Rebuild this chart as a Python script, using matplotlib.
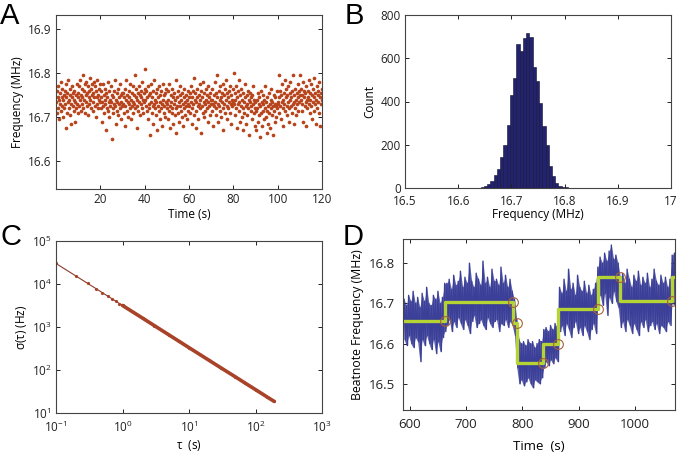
import numpy as np
import matplotlib
matplotlib.use("Agg")
import matplotlib.pyplot as plt

plt.rcParams['font.family'] = ['Open Sans', 'DejaVu Sans']
plt.rcParams['mathtext.fontset'] = 'dejavusans'

# ---------------- Panel A: frequency vs time (kHz above 16.7 MHz) ----------------
a_t_start = 0.2
a_t_step = 0.2
a_khz = [
    35,60,10,45,70,20,40,-5,55,30,80,15,45,25,65,0,40,50,20,60,
    30,75,-25,45,10,55,35,85,20,40,65,5,50,30,-15,45,70,25,55,15,
    40,60,-10,35,50,20,75,30,45,10,
    55,25,70,40,85,15,50,65,30,45,95,20,60,40,10,75,50,35,80,25,
    55,70,5,45,60,30,90,40,20,65,50,75,15,55,35,80,45,25,70,0,
    60,45,85,30,50,20,65,40,75,35,
    45,20,60,-10,35,75,25,50,10,40,65,30,-30,55,20,45,80,15,35,60,
    0,40,25,70,35,-50,50,20,45,10,60,30,85,25,-15,40,55,15,35,65,
    5,45,30,75,20,50,-5,35,55,25,
    30,55,10,45,-20,65,25,40,85,15,50,35,0,60,30,45,75,20,40,-5,
    55,25,70,35,10,50,30,95,20,45,65,-25,40,25,55,15,70,35,50,5,
    45,30,60,20,80,40,10,55,35,65,
    40,110,25,60,15,45,-5,70,30,50,20,-40,55,35,75,10,45,25,-15,60,
    30,85,20,40,5,55,35,-30,65,25,45,15,70,-5,35,50,20,60,30,-20,
    40,75,10,50,25,55,0,35,65,20,
    30,60,-5,40,15,75,25,-25,50,35,10,65,20,45,-15,30,55,5,40,85,
    20,-35,45,25,60,10,35,-10,50,25,70,15,40,0,55,30,-20,45,20,65,
    35,5,50,25,-5,40,15,60,30,45,
    25,55,10,70,35,-15,45,20,60,30,90,5,40,55,-25,35,15,65,45,25,
    -5,50,30,75,20,40,-35,60,25,45,10,80,35,0,55,30,15,65,40,20,
    50,-10,35,70,25,45,5,55,30,40,
    40,15,65,30,-20,50,25,80,35,5,55,20,45,95,30,-10,60,25,40,70,
    15,45,0,55,35,75,20,-30,50,30,65,10,40,85,25,55,-5,45,20,60,
    35,10,70,30,50,-15,40,25,65,35,
    100,30,55,5,40,70,20,-25,45,30,60,15,85,35,-10,50,25,65,0,40,
    20,55,-30,35,10,45,75,25,-15,50,30,5,60,20,40,-40,35,55,15,45,
    25,-5,50,30,70,10,40,-20,35,20,
    15,-30,40,20,55,-10,30,5,45,-45,25,60,10,35,-20,50,15,30,-5,40,
    20,70,0,35,-35,15,45,25,-15,55,10,30,-25,40,20,65,5,35,-40,25,
    50,15,-10,30,45,0,25,60,20,35,
    30,95,45,10,60,25,-5,50,35,75,20,40,-20,55,30,85,15,45,65,25,
    5,50,35,70,20,-10,55,40,80,25,45,10,60,30,95,35,-15,50,20,65,
    40,5,55,30,75,45,15,60,35,50,
    95,40,65,15,50,30,80,-10,45,60,25,55,35,-20,70,40,20,60,45,85,
    30,10,55,40,75,25,-5,50,35,65,15,45,90,30,55,-15,40,70,20,50,
    60,35,80,10,45,-20,55,30,65,40,
]
a_base_mhz = 16.7

# ---------------- Panel B: histogram counts ----------------
b_first_edge = 16.636
b_bin_width = 0.0061
b_counts = [2, 4, 8, 19, 31, 59, 90, 144, 199, 290, 432, 508, 665, 634, 694,
            717, 699, 559, 497, 393, 286, 199, 104, 54, 23, 11, 5, 3, 2, 1, 1]

# ---------------- Panel C: Allan deviation ----------------
c_tau = [0.1, 0.2, 0.3, 0.4, 0.5, 0.6, 0.7, 0.8, 0.9, 1.0,
         2, 3, 5, 7, 10, 20, 30, 50, 70, 100, 150, 191]
c_sigma = [30000, 15300, 10300, 7800, 6250, 5230, 4500, 3940, 3510, 3170,
           1610, 1080, 655, 470, 331, 168, 113, 69, 49.5, 35, 23.5, 18.6]

# ---------------- Panel D: beatnote trace envelope (kHz above 16.6 MHz) ----------------
d_t_start = 590
d_t_step = 4
d_hi = [110,95,120,105,130,100,115,90,125,105,140,100,95,120,110,130,100,115,
        150,
        150,160,135,170,145,155,180,140,165,150,200,155,140,175,160,145,205,150,165,140,
        185,155,160,145,190,150,170,140,160,130,
        110,60,
        10,0,5,-5,10,0,5,-10,0,10,5,
        35,40,30,45,35,50,40,
        140,125,160,130,185,135,150,120,170,140,130,155,125,145,120,135,150,
        190,215,200,225,205,230,245,210,220,200,
        165,175,150,185,160,140,170,155,180,145,165,150,175,140,160,185,155,145,170,150,
        165,140,160,
        220,225]
d_lo = [10,-5,20,0,-10,15,5,-45,10,-5,20,0,-15,10,-25,5,-20,15,
        30,
        45,60,30,55,40,65,50,35,60,45,25,55,70,40,50,60,45,35,65,50,
        40,55,60,30,50,45,60,40,55,45,
        20,-60,
        -100,-90,-105,-95,-85,-100,-110,-90,-95,-100,-85,
        -60,-45,-55,-40,-50,-35,-45,
        30,45,20,50,35,15,40,55,25,40,20,45,30,10,35,50,25,
        110,120,95,125,70,115,100,130,105,90,
        40,55,30,60,45,25,50,35,20,55,40,60,30,45,55,35,50,25,45,40,
        30,55,45,
        100,95]
d_base_mhz = 16.6
d_step_t = [588, 662, 783, 790, 836, 864, 934, 973, 1066, 1071]
d_step_f = [16.656, 16.704, 16.651, 16.553, 16.599, 16.687, 16.766, 16.705, 16.766, 16.766]
d_circ_t = [662, 783, 790, 836, 864, 934, 973, 1066]
d_circ_f = [16.656, 16.704, 16.651, 16.553, 16.599, 16.687, 16.766, 16.705]

# ---------------- figure ----------------
W, H = 679, 457
fig = plt.figure(figsize=(W / 100, H / 100), dpi=100)

def rect(l, r, t, b):
    return [l / W, 1 - b / H, (r - l) / W, (b - t) / H]

def style(ax):
    ax.tick_params(direction='in', top=True, right=True, length=3, width=0.7,
                   labelsize=8.5, colors='#222222', pad=3)
    ax.tick_params(which='minor', direction='in', top=True, right=True, length=1.8, width=0.5)
    for s in ax.spines.values():
        s.set_color('#444444')
        s.set_linewidth(0.8)

axA = fig.add_axes(rect(56, 322, 15, 189))
axB = fig.add_axes(rect(405, 671, 15, 188))
axC = fig.add_axes(rect(56, 322, 241, 413))
axD = fig.add_axes(rect(403, 675, 239, 410))

# A
a_t = a_t_start + a_t_step * np.arange(len(a_khz))
a_f = a_base_mhz + np.array(a_khz) / 1000.0
axA.scatter(a_t, a_f, s=7, color='#b8441c', linewidths=0)
axA.set_xlim(0.1, 120)
axA.set_ylim(16.537, 16.932)
axA.set_xticks([20, 40, 60, 80, 100, 120])
axA.set_yticks([16.6, 16.7, 16.8, 16.9])
axA.set_yticklabels(['16.6', '16.7', '16.8', '16.9'])
axA.set_xlabel('Time (s)', fontsize=8.5, labelpad=1)
axA.set_ylabel('Frequency (MHz)', fontsize=8.5, labelpad=3)
style(axA)

# B
b_edges = b_first_edge + b_bin_width * np.arange(len(b_counts))
axB.bar(b_edges, b_counts, width=b_bin_width, align='edge', color='#22226e',
        edgecolor='#111133', linewidth=0.4)
axB.set_xlim(16.5, 17)
axB.set_ylim(0, 800)
axB.set_xticks([16.5, 16.6, 16.7, 16.8, 16.9, 17])
axB.set_xticklabels(['16.5', '16.6', '16.7', '16.8', '16.9', '17'])
axB.set_yticks([0, 200, 400, 600, 800])
axB.set_xlabel('Frequency (MHz)', fontsize=8.5, labelpad=0)
axB.set_ylabel('Count', fontsize=8.5, labelpad=3)
style(axB)
axB.tick_params(axis='x', pad=5)

# C
c_tau_a = np.array(c_tau)
c_sig_a = np.array(c_sigma)
axC.plot(c_tau_a, c_sig_a, color='#8a3b2b', lw=0.8)
dense = c_tau_a >= 1.0
axC.plot(c_tau_a[dense], c_sig_a[dense], color='#a8432a', lw=2.6, solid_capstyle='round')
axC.plot(c_tau_a, c_sig_a, ls='none', marker='o', ms=2.3, color='#a8432a', mew=0)
axC.set_xscale('log')
axC.set_yscale('log')
axC.set_xlim(0.1, 1000)
axC.set_ylim(10, 1e5)
axC.set_xticks([0.1, 1, 10, 100, 1000])
axC.set_yticks([10, 100, 1000, 1e4, 1e5])
axC.set_xlabel(r'$\mathregular{\tau}$  (s)', fontsize=8.5, labelpad=2)
axC.set_ylabel(r'$\mathregular{\sigma(\tau)}$ (Hz)', fontsize=8.5, labelpad=2)
style(axC)
axC.tick_params(which='minor', length=0)
axC.tick_params(axis='x', pad=5)

# D
d_t = d_t_start + d_t_step * np.arange(len(d_hi))
d_hi_f = d_base_mhz + np.array(d_hi) / 1000.0
d_lo_f = d_base_mhz + np.array(d_lo) / 1000.0
blue = '#3b3f98'
axD.fill_between(d_t, d_lo_f, d_hi_f, color=blue, lw=0, alpha=0.8)
zig_t = np.column_stack([d_t, d_t + d_t_step / 2]).ravel()
zig_f = np.column_stack([d_hi_f, d_lo_f]).ravel()
axD.plot(zig_t, zig_f, color=blue, lw=1.0)
axD.step(d_step_t, d_step_f, where='post', color='#b6d335', lw=2.4)
axD.plot(d_circ_t, d_circ_f, ls='none', marker='o', ms=7, mfc='none', mec='#a8603a', mew=0.8)
axD.set_xlim(588, 1071)
axD.set_ylim(16.435, 16.86)
axD.set_xticks([600, 700, 800, 900, 1000])
axD.set_yticks([16.5, 16.6, 16.7, 16.8])
axD.set_yticklabels(['16.5', '16.6', '16.7', '16.8'])
axD.set_xlabel('Time  (s)', fontsize=9.5, labelpad=6)
axD.set_ylabel('Beatnote Frequency (MHz)', fontsize=8.8, labelpad=3)
style(axD)
axD.tick_params(labelsize=9.5, pad=6)

# panel letters
for letter, x, y in [('A', 0, 24), ('B', 345, 24), ('C', 0, 245), ('D', 343, 245)]:
    fig.text(x / W, 1 - y / H, letter, fontsize=21, family=['Liberation Sans', 'DejaVu Sans'],
             ha='left', va='baseline')

fig.savefig('out.png', dpi=100)
